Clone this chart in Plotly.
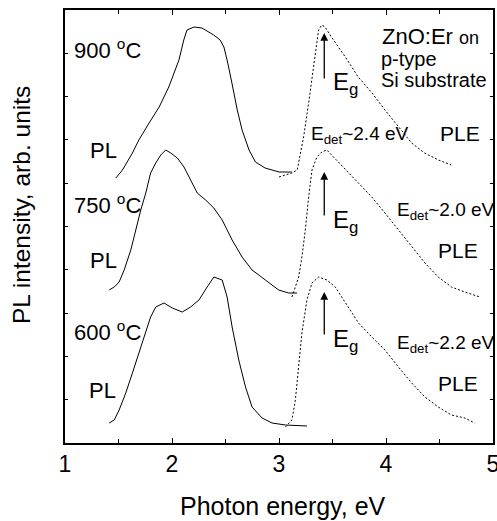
import plotly.graph_objects as go

# ---------------- data (photon energy in eV, intensity in arb. units incl. offsets) -------------
pl900_e = [1.475, 1.537, 1.63, 1.69, 1.786, 1.88, 1.97, 2.065, 2.11, 2.14, 2.205, 2.28, 2.39, 2.45,
           2.485, 2.515, 2.56, 2.61, 2.655, 2.72, 2.78, 2.87, 3.0, 3.12]
pl900_i = [265, 273, 290, 303, 320, 336, 356, 383, 403, 413, 416, 415, 408, 403,
           396, 383, 360, 333, 313, 293, 281, 275, 271, 271]

ple900_e = [3.0, 3.12, 3.17, 3.23, 3.277, 3.308, 3.34, 3.37, 3.40, 3.43, 3.49, 3.62, 3.74, 3.87,
            3.99, 4.12, 4.24, 4.36, 4.49, 4.61]
ple900_i = [266, 270, 273, 306, 340, 366, 393, 413, 418, 416, 406, 386, 366, 350,
            333, 316, 300, 290, 283, 278]

pl750_e = [1.413, 1.46, 1.506, 1.553, 1.615, 1.66, 1.708, 1.755, 1.80, 1.848, 1.895, 1.941, 1.988,
           2.05, 2.112, 2.174, 2.236, 2.314, 2.391, 2.469, 2.562, 2.655, 2.748, 2.873, 2.997, 3.09, 3.168]
pl750_i = [153, 156, 161, 173, 193, 213, 233, 250, 270, 280, 288, 293, 290,
           285, 276, 263, 250, 243, 235, 223, 203, 186, 173, 163, 153, 150, 150]

ple750_e = [3.121, 3.184, 3.214, 3.246, 3.277, 3.308, 3.354, 3.40, 3.447, 3.51, 3.619, 3.743, 3.867,
            3.99, 4.116, 4.24, 4.364, 4.488, 4.612, 4.737, 4.877]
ple750_i = [146, 166, 186, 213, 246, 273, 286, 291, 293, 286, 273, 260, 246,
            230, 213, 196, 180, 166, 156, 151, 146]

pl600_e = [1.413, 1.46, 1.506, 1.568, 1.63, 1.692, 1.755, 1.80, 1.848, 1.925, 2.003, 2.096, 2.174,
           2.252, 2.329, 2.391, 2.469, 2.515, 2.562, 2.624, 2.687, 2.748, 2.842, 2.935, 3.06, 3.261]
pl600_i = [20, 23, 33, 50, 70, 90, 110, 126, 136, 140, 135, 131, 136,
           143, 156, 166, 163, 146, 116, 83, 56, 36, 25, 20, 18, 17]

ple600_e = [3.06, 3.121, 3.153, 3.184, 3.214, 3.261, 3.308, 3.37, 3.447, 3.526, 3.619, 3.743, 3.867,
            3.99, 4.116, 4.24, 4.364, 4.488, 4.612, 4.737, 4.83]
ple600_i = [16, 23, 43, 76, 110, 143, 160, 166, 163, 156, 140, 120, 106,
            93, 76, 60, 46, 36, 28, 25, 20]

x_ticks = [1, 2, 3, 4, 5]
x_tick_labels = ["1", "2", "3", "4", "5"]

FONT = "Liberation Sans, Arial, sans-serif"

fig = go.Figure()
for e, i in [(pl900_e, pl900_i), (pl750_e, pl750_i), (pl600_e, pl600_i)]:
    fig.add_trace(go.Scatter(x=e, y=i, mode="lines", line=dict(color="black", width=1),
                             showlegend=False, hoverinfo="skip"))
for e, i in [(ple900_e, ple900_i), (ple750_e, ple750_i), (ple600_e, ple600_i)]:
    fig.add_trace(go.Scatter(x=e, y=i, mode="lines",
                             line=dict(color="black", width=1, dash="2px,2px"),
                             showlegend=False, hoverinfo="skip"))

ann = []
def txt(x, y, t, size=22, xanchor="left", yanchor="middle"):
    ann.append(dict(x=x, y=y, xref="x", yref="y", text=t, showarrow=False,
                    xanchor=xanchor, yanchor=yanchor, font=dict(family=FONT, size=size, color="black")))

txt(1.068, 394, "900 <sup>o</sup>C")
txt(1.217, 293, "PL")
txt(1.068, 239, "750 <sup>o</sup>C")
txt(1.217, 183, "PL")
txt(1.068, 112, "600 <sup>o</sup>C")
txt(1.208, 53, "PL")

txt(3.94, 407, "ZnO:Er <span style='font-size:18px'>on</span>", size=22)
txt(3.93, 384, "p-type", size=20)
txt(3.93, 363, "Si substrate", size=20)

txt(3.49, 360, "E<sub>g</sub>", size=24)
txt(3.49, 222, "E<sub>g</sub>", size=24)
txt(3.49, 103, "E<sub>g</sub>", size=24)

txt(3.277, 308, "E<sub>det</sub>~2.4 eV", size=19)
txt(4.088, 232, "E<sub>det</sub>~2.0 eV", size=19)
txt(4.088, 99, "E<sub>det</sub>~2.2 eV", size=19)

txt(4.49, 310, "PLE", size=21)
txt(4.47, 193, "PLE", size=21)
txt(4.47, 60, "PLE", size=21)

for tail, head in [(363, 410), (226, 271), (107, 151)]:
    ann.append(dict(x=3.423, y=head, ax=3.423, ay=tail, xref="x", yref="y", axref="x", ayref="y",
                    text="", showarrow=True, arrowhead=2, arrowsize=1.2, arrowwidth=1.3,
                    arrowcolor="black"))

# axis titles
ann.append(dict(x=0.51, y=-0.145, xref="paper", yref="paper", text="Photon energy, eV",
                showarrow=False, xanchor="center", yanchor="middle",
                font=dict(family=FONT, size=25, color="black")))
ann.append(dict(x=-0.1, y=0.55, xref="paper", yref="paper", text="PL intensity, arb. units",
                showarrow=False, xanchor="center", yanchor="middle", textangle=-90,
                font=dict(family=FONT, size=24.5, color="black")))

fig.update_layout(
    width=497, height=521,
    margin=dict(l=65, r=4, t=10, b=78, autoexpand=False),
    paper_bgcolor="white", plot_bgcolor="white",
    annotations=ann,
    xaxis=dict(range=[1, 5], tickvals=x_ticks, ticktext=x_tick_labels,
               ticks="inside", ticklen=5, tickwidth=1, tickcolor="black",
               ticklabeloverflow="allow", automargin=False,
               showline=True, linecolor="black", linewidth=1.5, mirror="ticks",
               showgrid=False, zeroline=False,
               tickfont=dict(family=FONT, size=23, color="black"),
               minor=dict(dtick=0.5, ticks="inside", ticklen=4, tickcolor="black", showgrid=False)),
    yaxis=dict(range=[0, 433], dtick=43.3, showticklabels=False, automargin=False,
               ticks="inside", ticklen=3, tickwidth=1, tickcolor="black",
               showline=True, linecolor="black", linewidth=1.5, mirror="ticks",
               showgrid=False, zeroline=False),
)

fig.write_html("out.html")
